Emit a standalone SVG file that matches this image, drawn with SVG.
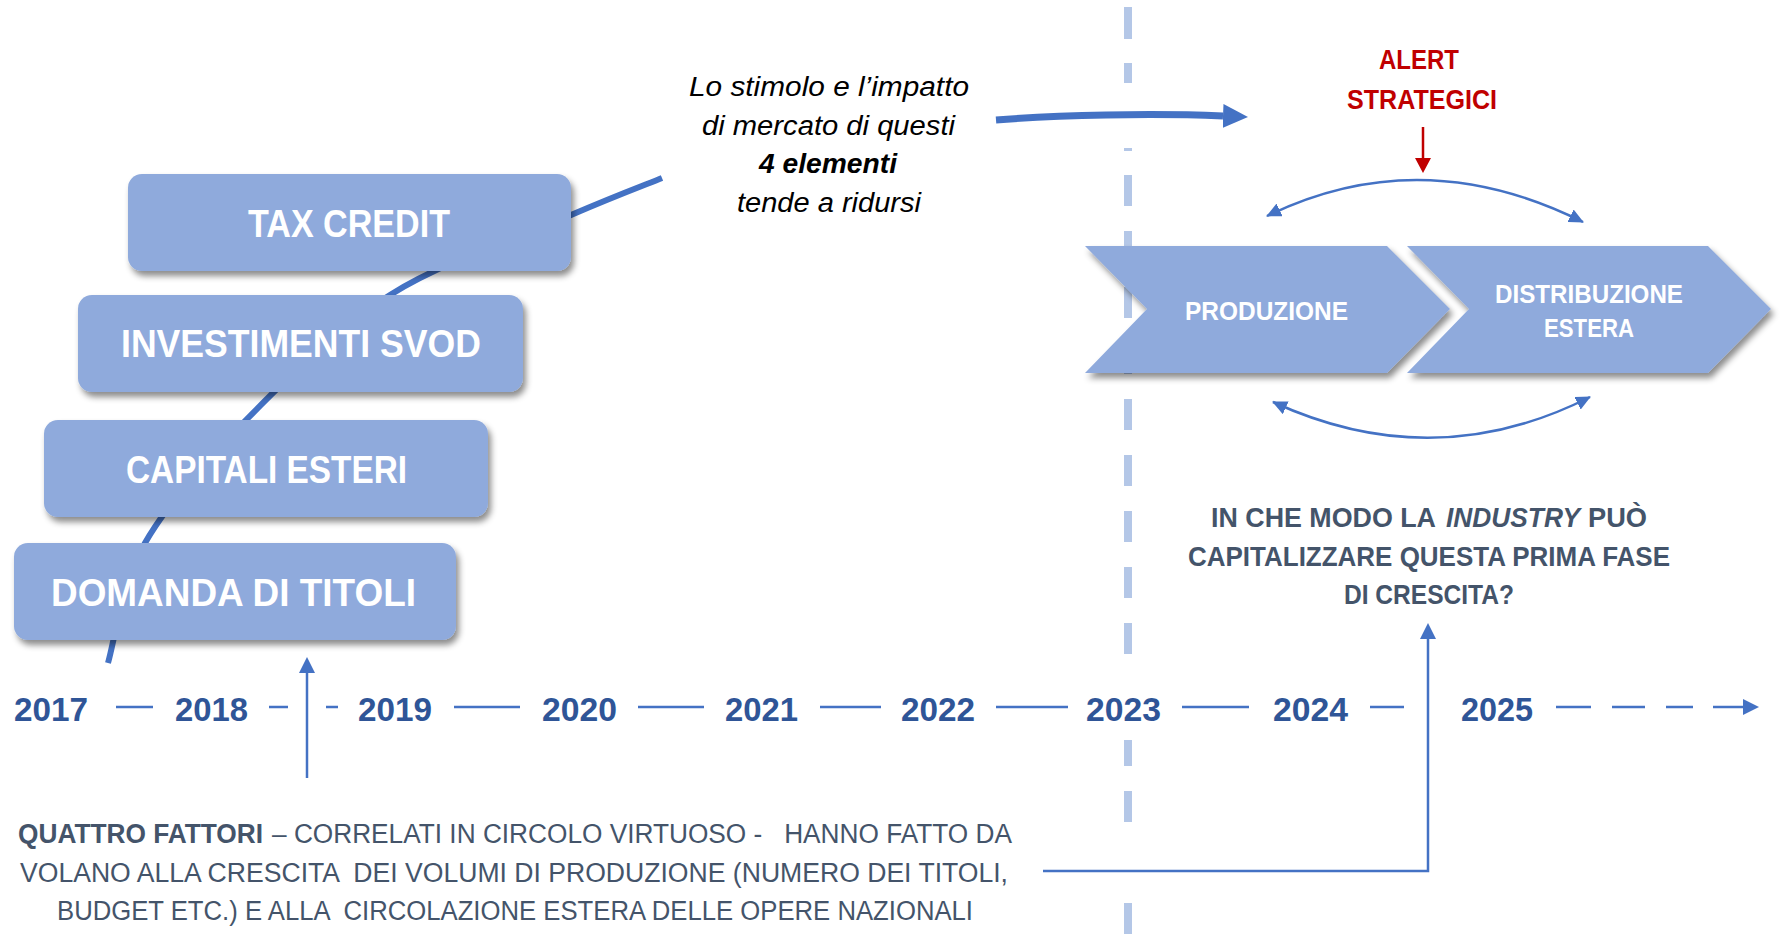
<svg xmlns="http://www.w3.org/2000/svg" width="1781" height="937" viewBox="0 0 1781 937">
<style>
  .box { fill: #8FAADC; }
  .boxtxt { font-family: 'Liberation Sans', Arial, sans-serif; font-weight: bold; font-size: 38px; fill: #FFFFFF; text-anchor: middle; }
  .chevtxt { font-family: 'Liberation Sans', Arial, sans-serif; font-weight: bold; font-size: 25px; fill: #FFFFFF; text-anchor: middle; }
  .year { font-family: 'Liberation Sans', Arial, sans-serif; font-weight: bold; font-size: 34px; fill: #2F5597; text-anchor: middle; }
  .note { font-family: 'Liberation Sans', Arial, sans-serif; font-style: italic; font-size: 27px; fill: #000000; text-anchor: middle; }
  .alert { font-family: 'Liberation Sans', Arial, sans-serif; font-weight: bold; font-size: 27px; fill: #C00000; text-anchor: middle; }
  .q { font-family: 'Liberation Sans', Arial, sans-serif; font-weight: bold; font-size: 28px; fill: #44546A; }
  .body { font-family: 'Liberation Sans', Arial, sans-serif; font-size: 27px; fill: #44546A; }
  .thin { fill: none; stroke: #4472C4; stroke-width: 2.5; }
  .sep { fill: none; stroke: #B4C7E7; stroke-width: 8; }
</style>
<defs>
  <filter id="shadow" x="-10%" y="-20%" width="125%" height="150%">
    <feDropShadow dx="3" dy="5" stdDeviation="3" flood-color="#000000" flood-opacity="0.45"/>
  </filter>
  <marker id="ah" markerUnits="userSpaceOnUse" markerWidth="16" markerHeight="16" refX="0" refY="8" orient="auto">
    <path d="M0,0 L16,8 L0,16 z" fill="#4472C4"/>
  </marker>
  <marker id="ahArc" markerUnits="userSpaceOnUse" markerWidth="15" markerHeight="14" refX="14" refY="7" orient="auto-start-reverse">
    <path d="M0,0 L15,7 L0,14 z" fill="#4472C4"/>
  </marker>
  <marker id="ahThick" markerUnits="userSpaceOnUse" markerWidth="26" markerHeight="24" refX="0" refY="12" orient="auto">
    <path d="M0,0 L25,12 L0,24 z" fill="#4472C4"/>
  </marker>
  <marker id="ahRed" markerUnits="userSpaceOnUse" markerWidth="16" markerHeight="16" refX="0" refY="8" orient="auto">
    <path d="M0,0 L15,8 L0,16 z" fill="#C00000"/>
  </marker>
</defs>

<rect x="0" y="0" width="1781" height="937" fill="#FFFFFF"/>

<!-- 2023 separator -->
<path class="sep" d="M1128,7 V39 M1128,63 V83 M1128,148 V151 M1128,175 V206 M1128,231 V262 M1128,287 V318 M1128,343 V374 M1128,399 V430 M1128,455 V486 M1128,511 V542 M1128,567 V598 M1128,623 V654 M1128,740 V766 M1128,791 V822 M1128,903 V934"/>

<g id="connectors">
  <!-- growth curve behind the factor boxes -->
  <path d="M108,663 C114.2,642.2 122,583.3 145,543 C168,502.7 205.2,461.3 246,420 C286.8,378.7 335.8,329.2 390,295 C444.2,260.8 525.7,234.5 571,215 C616.3,195.5 646.8,184.2 662,178" fill="none" stroke="#4472C4" stroke-width="6"/>
  <!-- timeline -->
  <path class="thin" d="M116,707 H153 M269,707 H288 M326,707 H338 M454,707 H520 M638,707 H704 M820,707 H881 M996,707 H1068 M1182,707 H1249 M1370,707 H1404 M1556,707 H1591 M1612,707 H1645 M1666,707 H1693"/>
  <line class="thin" x1="1713" y1="707" x2="1743" y2="707" marker-end="url(#ah)"/>
  <!-- factors arrow -->
  <line class="thin" x1="307" y1="778" x2="307" y2="673" marker-end="url(#ah)"/>
  <!-- bottom text to question -->
  <polyline class="thin" points="1043,871 1428,871 1428,639" marker-end="url(#ah)"/>
  <!-- thick arrow -->
  <path d="M996,120 C1060,115 1150,113 1223,116" fill="none" stroke="#4472C4" stroke-width="7" marker-end="url(#ahThick)"/>
  <!-- alert arrow -->
  <line x1="1423" y1="127" x2="1423" y2="158" stroke="#C00000" stroke-width="2.5" marker-end="url(#ahRed)"/>
  <!-- cycle arcs -->
  <path class="thin" d="M1267,216 Q1421,141 1583,222" marker-start="url(#ahArc)" marker-end="url(#ahArc)"/>
  <path class="thin" d="M1273,402 Q1434,476 1590,397" marker-start="url(#ahArc)" marker-end="url(#ahArc)"/>
</g>

<g id="node-tax-credit">
  <rect class="box" x="128" y="174" width="443" height="97" rx="14" filter="url(#shadow)"/>
  <text class="boxtxt" x="349" y="237" textLength="202" lengthAdjust="spacingAndGlyphs">TAX CREDIT</text>
</g>
<g id="node-investimenti-svod">
  <rect class="box" x="78" y="295" width="445" height="97" rx="14" filter="url(#shadow)"/>
  <text class="boxtxt" x="301" y="357" textLength="360" lengthAdjust="spacingAndGlyphs">INVESTIMENTI SVOD</text>
</g>
<g id="node-capitali-esteri">
  <rect class="box" x="44" y="420" width="444" height="97" rx="14" filter="url(#shadow)"/>
  <text class="boxtxt" x="266.5" y="483" textLength="281" lengthAdjust="spacingAndGlyphs">CAPITALI ESTERI</text>
</g>
<g id="node-domanda-di-titoli">
  <rect class="box" x="14" y="543" width="442" height="97" rx="14" filter="url(#shadow)"/>
  <text class="boxtxt" x="233.5" y="606" textLength="365" lengthAdjust="spacingAndGlyphs">DOMANDA DI TITOLI</text>
</g>

<g id="node-produzione">
  <polygon class="box" points="1085,246 1387,246 1450,309 1387,373 1085,373 1147,309" filter="url(#shadow)"/>
  <text class="chevtxt" x="1266.5" y="320" textLength="163" lengthAdjust="spacingAndGlyphs">PRODUZIONE</text>
</g>
<g id="node-distribuzione-estera">
  <polygon class="box" points="1407,246 1708,246 1771,309 1708,373 1407,373 1469,309" filter="url(#shadow)"/>
  <text class="chevtxt" x="1589" y="303" textLength="188" lengthAdjust="spacingAndGlyphs">DISTRIBUZIONE</text>
  <text class="chevtxt" x="1589" y="337" textLength="90" lengthAdjust="spacingAndGlyphs">ESTERA</text>
</g>

<g id="years">
  <text class="year" x="51" y="721" textLength="74" lengthAdjust="spacingAndGlyphs">2017</text>
  <text class="year" x="211.5" y="721" textLength="73" lengthAdjust="spacingAndGlyphs">2018</text>
  <text class="year" x="395" y="721" textLength="74" lengthAdjust="spacingAndGlyphs">2019</text>
  <text class="year" x="579.5" y="721" textLength="75" lengthAdjust="spacingAndGlyphs">2020</text>
  <text class="year" x="761.5" y="721" textLength="73" lengthAdjust="spacingAndGlyphs">2021</text>
  <text class="year" x="938" y="721" textLength="74" lengthAdjust="spacingAndGlyphs">2022</text>
  <text class="year" x="1123.5" y="721" textLength="75" lengthAdjust="spacingAndGlyphs">2023</text>
  <text class="year" x="1310.5" y="721" textLength="75" lengthAdjust="spacingAndGlyphs">2024</text>
  <text class="year" x="1497" y="721" textLength="72" lengthAdjust="spacingAndGlyphs">2025</text>
</g>

<g id="note-stimolo">
  <text class="note" x="829" y="96" textLength="280" lengthAdjust="spacingAndGlyphs">Lo stimolo e l’impatto</text>
  <text class="note" x="828.5" y="135" textLength="253" lengthAdjust="spacingAndGlyphs">di mercato di questi</text>
  <text class="note" x="828" y="173" font-weight="bold" textLength="138" lengthAdjust="spacingAndGlyphs">4 elementi</text>
  <text class="note" x="829" y="212" textLength="184" lengthAdjust="spacingAndGlyphs">tende a ridursi</text>
</g>

<g id="note-alert">
  <text class="alert" x="1419" y="69" textLength="80" lengthAdjust="spacingAndGlyphs">ALERT</text>
  <text class="alert" x="1422" y="109" textLength="150" lengthAdjust="spacingAndGlyphs">STRATEGICI</text>
</g>

<g id="note-question">
  <text class="q" x="1211" y="527" textLength="225" lengthAdjust="spacingAndGlyphs">IN CHE MODO LA</text>
  <text class="q" x="1446" y="527" font-style="italic" textLength="134" lengthAdjust="spacingAndGlyphs">INDUSTRY</text>
  <text class="q" x="1588" y="527" textLength="59" lengthAdjust="spacingAndGlyphs">PUÒ</text>
  <text class="q" x="1429" y="566" text-anchor="middle" textLength="482" lengthAdjust="spacingAndGlyphs">CAPITALIZZARE QUESTA PRIMA FASE</text>
  <text class="q" x="1429" y="604" text-anchor="middle" textLength="170" lengthAdjust="spacingAndGlyphs">DI CRESCITA?</text>
</g>

<g id="note-fattori">
  <text class="body" x="18" y="843" font-weight="bold" textLength="245" lengthAdjust="spacingAndGlyphs">QUATTRO FATTORI</text>
  <text class="body" x="272" y="843" xml:space="preserve" textLength="740" lengthAdjust="spacingAndGlyphs">– CORRELATI IN CIRCOLO VIRTUOSO -   HANNO FATTO DA</text>
  <text class="body" x="514" y="882" text-anchor="middle" xml:space="preserve" textLength="988" lengthAdjust="spacingAndGlyphs">VOLANO ALLA CRESCITA  DEI VOLUMI DI PRODUZIONE (NUMERO DEI TITOLI,</text>
  <text class="body" x="515" y="920" text-anchor="middle" xml:space="preserve" textLength="916" lengthAdjust="spacingAndGlyphs">BUDGET ETC.) E ALLA  CIRCOLAZIONE ESTERA DELLE OPERE NAZIONALI</text>
</g>
</svg>
